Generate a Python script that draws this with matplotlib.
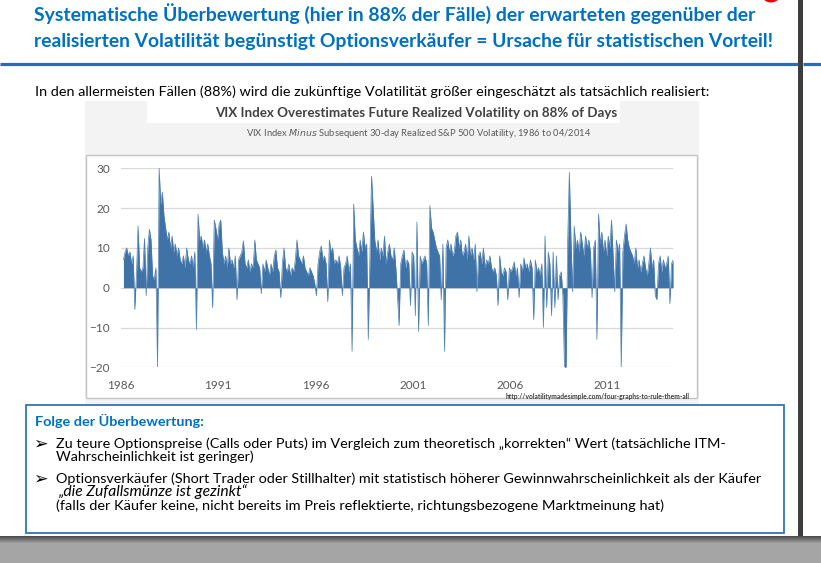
import numpy as np
import pandas as pd
import matplotlib
matplotlib.use('Agg')
import matplotlib.pyplot as plt
from matplotlib.patches import Rectangle, Circle

# VIX minus subsequent 30-day realized vol, monthly readings
v1986 = [7, 9, 10, 8, 9, 6, 8, -5.5, 3, 15.5, 5, 4]
v1987 = [5, 12.4, -2, 10, 14.7, 12, 3, 2, 5, -20, 30, 21]
v1988 = [24, 18, 15, 12, 14, 10, 13, 9, 11, 8, 10, 7]
v1989 = [6, 8, 5, 10, 7, 6, 8, 5, 9, -10.5, 18.5, 12]
v1990 = [13, 10, 12, 9, 11, 8, 6, -5, 17, 15, 12, 16]
v1991 = [17, 9, 6, 8, 5, 10, 6, 7, 5, 8, -3, 7]
v1992 = [8, 9, 11.8, 6, 5, 7, 4, 6, 5, 12, 7, 6]
v1993 = [5, -1.5, 6, 4, 7, 5, 3, 6, 4, 8, 9.5, 5]
v1994 = [4, -2.5, 6, 10, 5, 4, 6, 3, 5, 4, 7, 12]
v1995 = [8, 7, 6, 8, 5, 4, 3, 5, 4, 3, 1, -2]
v1996 = [6, 9, 10.5, 7, 8, 6, -3.5, 12, 9, 10, 6, 7]
v1997 = [6, 8, 5, -2, 5, 6, 8, 4, 6, -16, 21, 12]
v1998 = [10, 8, 12, 9, 14, 10, 11, -13, 8, 28, 20, 12]
v1999 = [9, 12, 7, 10, 8, 13, 6, 9, 11, 8, 7, 10]
v2000 = [5, -2, -9.5, 6, 8, 9.5, 5, 7, 6, -4.5, 9, 8]
v2001 = [-7, 16.5, -11, 8, 6, 7, 8, 6, -9.5, 20.6, 15, 14]
v2002 = [12, 10, 9, 8, -3, 11, -16, 10, 12, 9, 11, 8]
v2003 = [9, 13, 14, 10, 12, 8, 9, 11, 7, 13, 8, 10]
v2004 = [7, 11, -1, 8, 9, 6, 10, 5, 7, 6, 8, 5]
v2005 = [4, 5, 3, -4.5, 8, 4, 3, 5, 4, -3, 5, 4]
v2006 = [5, 6.5, 3, 5, -2.5, 6, 4, 7.5, 5, 6, 4, 7]
v2007 = [5, -8, 7, 4, 5, 3, 6, -10, 13, -5, 9, 6]
v2008 = [-7, 9, -5, 8, -3, 3, 4, -2, -20, -20, 12, 29]
v2009 = [12, -1, 15.5, 10, 12, 9, 14, 11, 8, 13, 10, 12]
v2010 = [9, -2.5, 10, 12, -13, 18.5, 11, 14, 9, 12, 8, 13]
v2011 = [10, 17, 8, -1, 12, 9, 11, -20, 9, 13, 16, 12]
v2012 = [10, 9, 8, 6, 10, 5, 7, 4, 6, 8, 5, 3]
v2013 = [6, 10, 5, 7, -2, -3, 6, 8, 4, 7, 5, 6]
v2014 = [8, -4, 6, 7]

year_ticks = [1986, 1991, 1996, 2001, 2006, 2011]
y_ticks = [-20, -10, 0, 10, 20, 30]

spread = np.concatenate([v1986, v1987, v1988, v1989, v1990, v1991, v1992, v1993,
                         v1994, v1995, v1996, v1997, v1998, v1999, v2000, v2001,
                         v2002, v2003, v2004, v2005, v2006, v2007, v2008, v2009,
                         v2010, v2011, v2012, v2013, v2014])
dates = pd.date_range('1986-01-15', periods=len(spread), freq='MS')
xyear = dates.year + (dates.month - 0.5) / 12

BLUE = '#0070C0'
FONT = 'Lato'

fig = plt.figure(figsize=(8.21, 5.63), dpi=100)
bg = fig.add_axes([0, 0, 1, 1])
bg.set_xlim(0, 821)
bg.set_ylim(563, 0)
bg.axis('off')
renderer = fig.canvas.get_renderer()


def put(x, y, s, width=None, size=11, **kw):
    # place text in slide pixels, scaled to the width seen in the slide
    kw.setdefault('family', FONT)
    t = bg.text(x, y, s, fontsize=size, **kw)
    if width:
        w = t.get_window_extent(renderer).width
        t.set_fontsize(size * width / w)
    return t


# slide frame bits: dark divider, grey desk below the slide with a shadow
bg.add_patch(Rectangle((798, 0), 5, 540, fc='#3d3d3d', ec='none'))
shade = np.minimum(0.30 + np.arange(27) * 0.05, 0.65)
desk = np.repeat(shade[:, None, None], 3, axis=2)
bg.imshow(desk, extent=(0, 821, 563, 536), aspect='auto', zorder=1)
bg.set_xlim(0, 821)
bg.set_ylim(563, 0)
bg.add_patch(Circle((771, -8), 10.5, fc='#e30613', ec='none'))
bg.plot([0, 798], [63.5, 63.5], color='#1f6fc0', lw=2.3, solid_capstyle='butt')
bg.plot([803, 821], [63.5, 63.5], color='#1f6fc0', lw=2.3, solid_capstyle='butt')

# headline
put(34, 20.5, 'Systematische Überbewertung (hier in 88% der Fälle) der erwarteten gegenüber der',
    width=722, size=13, color=BLUE, weight='bold')
put(34, 47, 'realisierten Volatilität begünstigt Optionsverkäufer = Ursache für statistischen Vorteil!',
    width=739, size=13, color=BLUE, weight='bold')
put(35, 95.5, 'In den allermeisten Fällen (88%) wird die zukünftige Volatilität größer eingeschätzt als tatsächlich realisiert:',
    width=675, size=10, color='black')

# chart picture panel
bg.add_patch(Rectangle((85, 101), 614, 304, fc='#f3f3f3', ec='none'))
bg.add_patch(Rectangle((147, 101), 473, 22, fc='white', ec='none'))
bg.add_patch(Rectangle((86, 155), 611, 243, fc='white', ec='#c4c4c4', lw=1.0))
put(416, 117, 'VIX Index Overestimates Future Realized Volatility on 88% of Days',
    width=402, size=9, color='#404040', weight='bold', ha='center')
put(419, 135.5, 'VIX Index $\\it{Minus}$ Subsequent 30-day Realized S&P 500 Volatility, 1986 to 04/2014',
    width=346, size=7, color='#595959', ha='center')

ax = fig.add_axes([121 / 821, 1 - 367.3 / 563, 552 / 821, 199 / 563])
ax.set_xlim(1986.0, 2014.37)
ax.set_ylim(-20, 30)
ax.fill_between(xyear, spread, 0, color='#3f73a8', lw=0)
ax.plot(xyear, spread, color='#4a7db0', lw=0.5)
ax.set_yticks(y_ticks)
ax.set_xticks(year_ticks)
ax.grid(axis='y', color='#d9d9d9', lw=0.9)
ax.set_axisbelow(True)
ax.patch.set_alpha(0)
for s in ax.spines.values():
    s.set_visible(False)
ax.tick_params(axis='both', length=0, labelsize=8.5, colors='#595959')
ax.tick_params(axis='x', pad=9)
ax.tick_params(axis='y', pad=8)
for lab in ax.get_xticklabels() + ax.get_yticklabels():
    lab.set_family(FONT)

put(506, 399.5, 'http://volatilitymadesimple.com/four-graphs-to-rule-them-all',
    width=183, size=5, color='#404040', weight='bold', zorder=5)

# consequences box
bg.add_patch(Rectangle((26, 405), 758, 128, fc='white', ec='#2e75b6', lw=1.3))
put(35, 426, 'Folge der Überbewertung:', width=170, size=10, color=BLUE, weight='bold')
for yb in (449, 484):
    bg.text(33, yb, '➢', fontsize=12.5, family='DejaVu Sans', color='black')
put(56, 448, 'Zu teure Optionspreise (Calls oder Puts) im Vergleich zum theoretisch „korrekten“ Wert (tatsächliche ITM-',
    width=671, size=10, color='black')
put(56, 461, 'Wahrscheinlichkeit ist geringer)', width=198, size=10, color='black')
put(56, 483, 'Optionsverkäufer (Short Trader oder Stillhalter) mit statistisch höherer Gewinnwahrscheinlichkeit als der Käufer',
    width=705, size=10, color='black')
put(58, 496, '„die Zufallsmünze ist gezinkt“', width=189, size=10, color='black', style='italic')
put(56, 510, '(falls der Käufer keine, nicht bereits im Preis reflektierte, richtungsbezogene Marktmeinung hat)',
    width=607, size=10, color='black')

fig.savefig('out.png', dpi=100)
